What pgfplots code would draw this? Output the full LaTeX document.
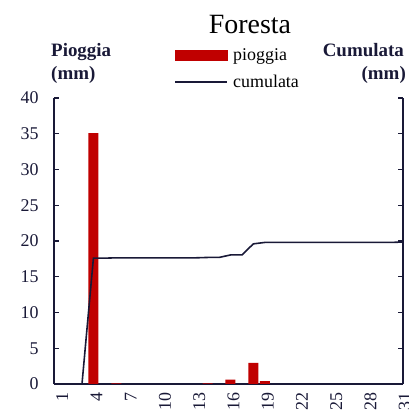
\documentclass[border=0pt]{standalone}
\usepackage{fontspec}
\setmainfont{Liberation Serif}
\usepackage{pgfplots}
\pgfplotsset{compat=1.18}
\definecolor{navy}{RGB}{25,25,55}
\definecolor{rossa}{RGB}{192,0,0}
\begin{document}
\begin{tikzpicture}
\useasboundingbox (-54bp,-35bp) rectangle (355bp,384bp);
\begin{axis}[
  scale only axis, width=349bp, height=286bp,
  xmin=0.55, xmax=31.1, ymin=0, ymax=40,
  axis x line*=bottom, axis y line*=left,
  axis line style={navy, line width=1.2bp},
  xtick={1,4,...,31}, ytick={0,5,...,40},
  tick align=inside, major tick length=5bp,
  xtick style={draw=none},
  ytick style={navy, line width=1.2bp},
  tick label style={font=\fontsize{18}{18}\selectfont, text=navy},
  xticklabel style={rotate=90, anchor=east, yshift=-3bp},
  yticklabel style={xshift=-12bp},
  /pgf/number format/assume math mode=true,
  ybar, bar width=10bp,
]
\addplot[fill=rossa, draw=none] coordinates {(4,35.1) (6,0.1) (14,0.1) (16,0.6) (18,2.95) (19,0.4)};
\end{axis}
\begin{axis}[
  scale only axis, width=349bp, height=286bp,
  xmin=0.55, xmax=31.1, ymin=0, ymax=80,
  axis x line=none, axis y line*=right,
  axis line style={navy, line width=1.2bp},
  ytick={0,10,...,80}, yticklabels={},
  tick align=inside, major tick length=5bp,
  ytick style={navy, line width=1.2bp},
  legend style={draw=none, fill=none, at={(axis description cs:0.345,1.18)}, anchor=north west,
    font=\fontsize{18}{18}\selectfont, row sep=9bp, inner sep=0pt,
    /tikz/every odd column/.append style={column sep=3bp}},
  legend cell align=left,
]
\addlegendimage{legend image code/.code={\fill[rossa] (0bp,-5bp) rectangle (52bp,5bp);}}
\addlegendentry{pioggia}
\addplot[navy, line width=1.6bp, mark=none, legend image code/.code={\draw[navy, line width=1.6bp] (0bp,0bp) -- (52bp,0bp);}] table {
x y
1 0
2 0
3 0
4 35.2
5 35.2
6 35.3
7 35.3
8 35.3
9 35.3
10 35.3
11 35.3
12 35.3
13 35.3
14 35.4
15 35.4
16 36.1
17 36.1
18 39.2
19 39.6
20 39.6
21 39.6
22 39.6
23 39.6
24 39.6
25 39.6
26 39.6
27 39.6
28 39.6
29 39.6
30 39.6
31 39.7
};
\addlegendentry{cumulata}
\end{axis}
\node[anchor=base, font=\fontsize{28}{28}\selectfont] at (196bp,350bp) {Foresta};
\node[anchor=base west, inner sep=0pt, text=navy, font=\bfseries\fontsize{19}{19}\selectfont] at (-3bp,327bp) {Pioggia};
\node[anchor=base west, inner sep=0pt, text=navy, font=\bfseries\fontsize{19}{19}\selectfont] at (-3bp,304bp) {(mm)};
\node[anchor=base east, inner sep=0pt, text=navy, font=\bfseries\fontsize{19}{19}\selectfont] at (350bp,327bp) {Cumulata};
\node[anchor=base east, inner sep=0pt, text=navy, font=\bfseries\fontsize{19}{19}\selectfont] at (352bp,304bp) {(mm)};
\end{tikzpicture}
\end{document}
